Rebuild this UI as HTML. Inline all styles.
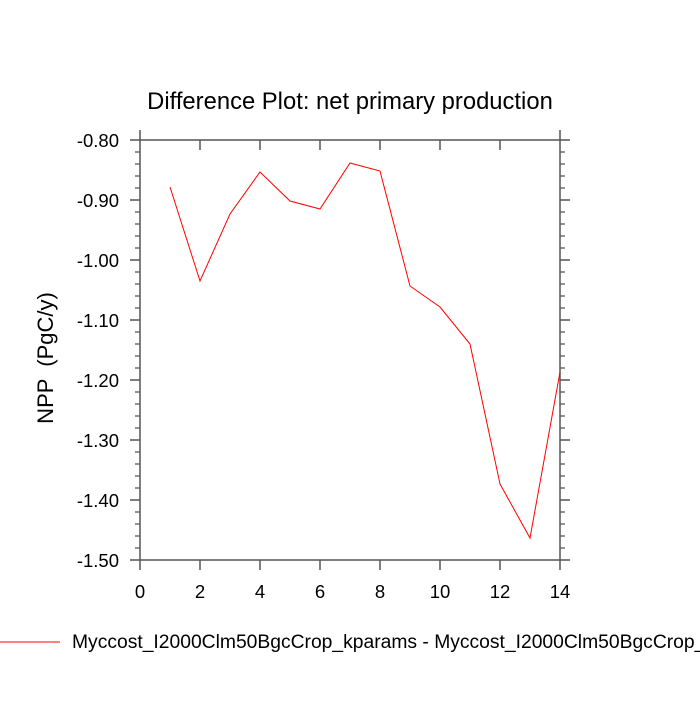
<!DOCTYPE html><html><head><style>body{margin:0;background:#fff}</style></head><body>
<svg width="700" height="700" xmlns="http://www.w3.org/2000/svg" font-family="Liberation Sans, sans-serif">
<rect width="700" height="700" fill="#fff"/>
<text x="350" y="109" font-size="23.8" text-anchor="middle">Difference Plot: net primary production</text>
<g stroke="#555" stroke-width="1.5" fill="none">
<rect x="140" y="140" width="420" height="420"/>
<path d="
M130 140H140M130 200H140M130 260H140M130 320H140M130 380H140M130 440H140M130 500H140M130 560H140
M560 140H570M560 200H570M560 260H570M560 320H570M560 380H570M560 440H570M560 500H570M560 560H570
M140 560V570M200 560V570M260 560V570M320 560V570M380 560V570M440 560V570M500 560V570M560 560V570
M140 140V130M200 140V150M260 140V150M320 140V150M380 140V150M440 140V150M500 140V150M560 140V130"/>
<path stroke-width="1.2" d="
M135 152H140M135 164H140M135 176H140M135 188H140M135 212H140M135 224H140M135 236H140M135 248H140M135 272H140M135 284H140M135 296H140M135 308H140M135 332H140M135 344H140M135 356H140M135 368H140M135 392H140M135 404H140M135 416H140M135 428H140M135 452H140M135 464H140M135 476H140M135 488H140M135 512H140M135 524H140M135 536H140M135 548H140
M560 152H565M560 164H565M560 176H565M560 188H565M560 212H565M560 224H565M560 236H565M560 248H565M560 272H565M560 284H565M560 296H565M560 308H565M560 332H565M560 344H565M560 356H565M560 368H565M560 392H565M560 404H565M560 416H565M560 428H565M560 452H565M560 464H565M560 476H565M560 488H565M560 512H565M560 524H565M560 536H565M560 548H565"/>
</g>
<g font-size="18.5" text-anchor="end">
<text x="119" y="147">-0.80</text><text x="119" y="207">-0.90</text><text x="119" y="267">-1.00</text><text x="119" y="327">-1.10</text><text x="119" y="387">-1.20</text><text x="119" y="447">-1.30</text><text x="119" y="507">-1.40</text><text x="119" y="567">-1.50</text>
</g>
<g font-size="18.5" text-anchor="middle">
<text x="140" y="598">0</text><text x="200" y="598">2</text><text x="260" y="598">4</text><text x="320" y="598">6</text><text x="380" y="598">8</text><text x="440" y="598">10</text><text x="500" y="598">12</text><text x="560" y="598">14</text>
</g>
<text transform="translate(53,358) rotate(-90)" font-size="22" text-anchor="middle" xml:space="preserve">NPP  (PgC/y)</text>
<polyline fill="none" stroke="#f00" stroke-width="1" points="170,187 200,281 230,214 260,172 290,201 320,209 350,163 380,171 410,286 440,307 470,344 500,484 530,538 560,372"/>
<line x1="0" y1="642" x2="60" y2="642" stroke="#f00" stroke-width="1"/>
<text x="72" y="648" font-size="19.3">Myccost_I2000Clm50BgcCrop_kparams - Myccost_I2000Clm50BgcCrop_</text>
</svg></body></html>
